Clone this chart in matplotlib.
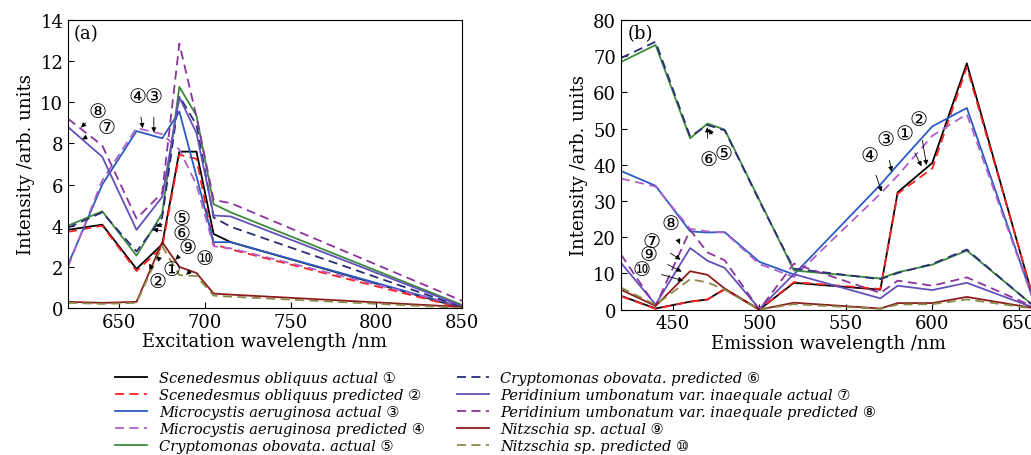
import matplotlib
matplotlib.use("Agg")
import matplotlib.pyplot as plt

plt.rcParams['font.family'] = ['DejaVu Serif', 'DejaVu Sans']
plt.rcParams['mathtext.fontset'] = 'dejavuserif'

# (a) excitation spectra
ex_wl = [620, 640, 660, 675, 685, 695, 705, 715, 850]
ex_sce_act = [3.8, 4.05, 1.9, 3.1, 7.6, 7.6, 3.6, 3.2, 0.0]
ex_sce_pre = [3.7, 4.0, 1.8, 2.95, 7.45, 7.25, 3.1, 2.85, 0.0]
ex_mic_act = [2.1, 6.0, 8.6, 8.25, 9.55, 6.4, 3.2, 3.2, 0.05]
ex_mic_pre = [2.0, 6.2, 8.75, 8.45, 7.7, 6.0, 3.0, 2.9, 0.1]
ex_cry_act = [4.0, 4.7, 2.55, 4.6, 10.75, 9.35, 5.05, 4.65, 0.15]
ex_cry_pre = [3.9, 4.65, 2.75, 4.4, 10.3, 8.9, 4.4, 3.95, 0.05]
ex_per_act = [8.8, 7.35, 3.8, 5.4, 10.25, 8.5, 4.5, 4.45, 0.1]
ex_per_pre = [9.2, 7.9, 4.35, 5.6, 12.85, 9.3, 5.25, 5.1, 0.35]
ex_nit_act = [0.3, 0.25, 0.3, 3.2, 2.0, 1.7, 0.7, 0.65, 0.05]
ex_nit_pre = [0.25, 0.2, 0.25, 3.0, 1.6, 1.55, 0.6, 0.55, 0.0]

# (b) emission spectra
em_wl = [420, 440, 460, 470, 480, 500, 520, 570, 580, 600, 620, 660]
em_sce_act = [3.8, 0.3, 2.2, 2.8, 5.7, 0.0, 7.4, 5.5, 32.4, 40.5, 68.0, 0.3]
em_sce_pre = [3.7, 0.2, 2.2, 2.8, 5.6, 0.0, 7.6, 5.7, 32.0, 39.0, 67.0, 0.6]
em_mic_act = [38.3, 34.2, 21.6, 21.3, 21.4, 13.2, 9.7, 34.5, 40.0, 50.6, 55.7, 0.5]
em_mic_pre = [36.2, 34.0, 22.3, 21.6, 21.3, 12.6, 9.0, 32.0, 37.0, 48.0, 54.0, 0.5]
em_cry_act = [68.4, 73.1, 47.3, 51.4, 49.7, 30.3, 10.8, 8.6, 10.3, 12.4, 16.3, 0.5]
em_cry_pre = [69.5, 74.0, 47.8, 51.0, 49.5, 30.0, 11.3, 8.4, 10.1, 12.6, 16.6, 0.4]
em_per_act = [12.9, 1.4, 17.0, 13.5, 11.5, 0.2, 9.8, 3.1, 6.6, 5.4, 7.4, 0.3]
em_per_pre = [15.2, 1.0, 22.0, 15.8, 13.6, 0.0, 12.7, 4.6, 8.0, 6.6, 8.9, 0.5]
em_nit_act = [5.5, 1.0, 10.6, 9.6, 5.8, 0.0, 1.9, 0.3, 1.8, 1.8, 3.5, 0.3]
em_nit_pre = [6.1, 1.3, 8.4, 7.5, 5.5, 0.0, 1.5, 0.2, 1.4, 1.5, 2.8, 0.2]

labels = [
    'Scenedesmus obliquus actual ①',
    'Scenedesmus obliquus predicted ②',
    'Microcystis aeruginosa actual ③',
    'Microcystis aeruginosa predicted ④',
    'Cryptomonas obovata. actual ⑤',
    'Cryptomonas obovata. predicted ⑥',
    'Peridinium umbonatum var. inaequale actual ⑦',
    'Peridinium umbonatum var. inaequale predicted ⑧',
    'Nitzschia sp. actual ⑨',
    'Nitzschia sp. predicted ⑩',
]
colors = ['#000000', '#ff2020', '#2a5cc4', '#b060c8', '#3c8c3c',
          '#2c2c78', '#6450bc', '#8c349c', '#8c1c1c', '#8c8a48']
dashed = [False, True, False, True, False, True, False, True, False, True]

ex_series = [ex_sce_act, ex_sce_pre, ex_mic_act, ex_mic_pre, ex_cry_act,
             ex_cry_pre, ex_per_act, ex_per_pre, ex_nit_act, ex_nit_pre]
em_series = [em_sce_act, em_sce_pre, em_mic_act, em_mic_pre, em_cry_act,
             em_cry_pre, em_per_act, em_per_pre, em_nit_act, em_nit_pre]

# circled markers: (text, text x, text y, arrow x, arrow y)
ex_notes = [
    ('⑧', 637.3, 9.56, 627.6, 8.77),
    ('⑦', 642.2, 8.77, 628.2, 8.2),
    ('④', 660.7, 10.28, 663.6, 8.74),
    ('③', 670.1, 10.28, 670.1, 8.53),
    ('⑤', 686.5, 4.36, 671.5, 3.97),
    ('⑥', 686.5, 3.6, 669.5, 3.82),
    ('⑨', 689.8, 2.92, 682.7, 2.35),
    ('⑩', 699.7, 2.4, 689.0, 1.62),
    ('①', 680.2, 1.88, 671.5, 2.51),
    ('②', 672.4, 1.29, 667.5, 2.16),
]
em_notes = [
    ('⑥', 470.5, 41.6, 469.9, 50.4),
    ('⑤', 479.1, 43.0, 470.9, 49.9),
    ('④', 563.5, 42.7, 570.7, 32.6),
    ('③', 573.0, 46.9, 576.5, 38.1),
    ('①', 584.2, 48.7, 593.8, 39.6),
    ('②', 592.3, 52.4, 596.7, 39.9),
    ('⑧', 448.9, 23.9, 454.1, 18.1),
    ('⑦', 437.7, 18.8, 454.5, 13.8),
    ('⑨', 435.8, 15.1, 455.1, 10.5),
    ('⑩', 432.0, 11.2, 456.0, 8.0),
]


def draw(ax, wl, series, notes):
    lines = []
    for y, c, d, lab in zip(series, colors, dashed, labels):
        ln, = ax.plot(wl, y, color=c, lw=1.3, label=lab)
        if d:
            ln.set_dashes((5, 3))
        lines.append(ln)
    for t, tx, ty, hx, hy in notes:
        ax.annotate(t, xy=(hx, hy), xytext=(tx, ty), ha='center', va='center',
                    fontsize=14.5, family=['DejaVu Sans'],
                    arrowprops=dict(arrowstyle='-|>', color='k', lw=0.6,
                                    mutation_scale=7, shrinkA=6, shrinkB=0))
    ax.tick_params(direction='in', labelsize=13, length=4, width=0.8)
    for s in ax.spines.values():
        s.set_linewidth(0.8)
    ax.set_ylabel('Intensity /arb. units', fontsize=13, labelpad=4)
    return lines


fig = plt.figure(figsize=(10.31, 4.56), dpi=100)
ax1 = fig.add_axes([68 / 1031, 1 - 309 / 456, 394 / 1031, 288 / 456])
ax2 = fig.add_axes([621 / 1031, 1 - 310.6 / 456, 415 / 1031, 289.6 / 456])

lines = draw(ax1, ex_wl, ex_series, ex_notes)
ax1.set_xlim(620, 850)
ax1.set_ylim(0, 14)
ax1.set_xticks([650, 700, 750, 800, 850])
ax1.set_yticks(range(0, 15, 2))
ax1.set_xlabel('Excitation wavelength /nm', fontsize=13, labelpad=1)
ax1.text(0.015, 0.985, '(a)', transform=ax1.transAxes, fontsize=13,
         va='top', ha='left')

draw(ax2, em_wl, em_series, em_notes)
ax2.set_xlim(420, 660)
ax2.set_ylim(0, 80)
ax2.set_xticks([450, 500, 550, 600, 650])
ax2.set_yticks(range(0, 81, 10))
ax2.set_xlabel('Emission wavelength /nm', fontsize=13, labelpad=1)
ax2.text(0.015, 0.985, '(b)', transform=ax2.transAxes, fontsize=13,
         va='top', ha='left')

fig.legend(handles=lines, loc='upper left', bbox_to_anchor=(115 / 1031, 1 - 372 / 456),
           ncol=2, frameon=False, prop={'style': 'italic', 'size': 10.5},
           handlelength=2.2, handletextpad=0.8, labelspacing=0.2,
           columnspacing=2.2, borderpad=0, borderaxespad=0)

fig.savefig('out.png', dpi=100)
